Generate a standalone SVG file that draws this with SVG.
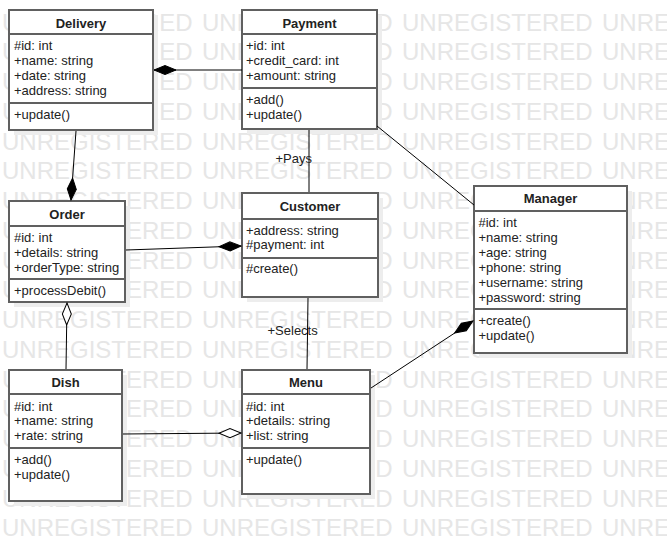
<svg xmlns="http://www.w3.org/2000/svg" xmlns:xlink="http://www.w3.org/1999/xlink" width="667" height="541" viewBox="0 0 667 541">
<style>
.wm{font-family:"Liberation Sans",Arial,sans-serif;font-size:24px;fill:#e6e6e6}
.shadow{fill:#ededed}
.box{fill:#fff;stroke:#606060;stroke-width:2}
.div{stroke:#606060;stroke-width:2}
.title{font-family:"Liberation Sans",Arial,sans-serif;font-size:13px;font-weight:bold;fill:#222;text-anchor:middle}
.txt{font-family:"Liberation Sans",Arial,sans-serif;font-size:13px;fill:#222}
.conn{stroke:#000;stroke-width:1;fill:none}
.lbl{font-family:"Liberation Sans",Arial,sans-serif;font-size:13px;fill:#222}
</style>
<defs>
<marker id="comp" markerUnits="userSpaceOnUse" markerWidth="24" markerHeight="12" viewBox="-1 -6 24 12" refX="22" refY="0" orient="auto" overflow="visible">
<path d="M0,0 L11,-4.5 L22,0 L11,4.5 Z" fill="#000" stroke="#000" stroke-width="1"/>
</marker>
<marker id="agg" markerUnits="userSpaceOnUse" markerWidth="24" markerHeight="12" viewBox="-1 -6 24 12" refX="22" refY="0" orient="auto" overflow="visible">
<path d="M0,0 L11,-4.5 L22,0 L11,4.5 Z" fill="#fff" stroke="#000" stroke-width="1"/>
</marker>
<text id="wmrow" class="wm"><tspan x="2">UNREGISTERED</tspan><tspan x="202">UNREGISTERED</tspan><tspan x="402">UNREGISTERED</tspan><tspan x="602">UNREGISTERED</tspan></text>
</defs>
<rect width="667" height="541" fill="#fff"/>
<g id="watermark">
<use xlink:href="#wmrow" y="30.5"/>
<use xlink:href="#wmrow" y="60.25"/>
<use xlink:href="#wmrow" y="90"/>
<use xlink:href="#wmrow" y="119.75"/>
<use xlink:href="#wmrow" y="149.5"/>
<use xlink:href="#wmrow" y="179.25"/>
<use xlink:href="#wmrow" y="209"/>
<use xlink:href="#wmrow" y="238.75"/>
<use xlink:href="#wmrow" y="268.5"/>
<use xlink:href="#wmrow" y="298.25"/>
<use xlink:href="#wmrow" y="328"/>
<use xlink:href="#wmrow" y="357.75"/>
<use xlink:href="#wmrow" y="387.5"/>
<use xlink:href="#wmrow" y="417.25"/>
<use xlink:href="#wmrow" y="447"/>
<use xlink:href="#wmrow" y="476.75"/>
<use xlink:href="#wmrow" y="506.5"/>
<use xlink:href="#wmrow" y="536.25"/>
</g>
<g id="delivery">
<rect class="shadow" x="14" y="15" width="144" height="120"/>
<rect class="box" x="9" y="10" width="144" height="120"/>
<line class="div" x1="9" y1="34" x2="153" y2="34"/>
<line class="div" x1="9" y1="103" x2="153" y2="103"/>
<text class="title" x="81" y="27.5">Delivery</text>
<text class="txt" x="14" y="50">#id: int</text>
<text class="txt" x="14" y="65">+name: string</text>
<text class="txt" x="14" y="80">+date: string</text>
<text class="txt" x="14" y="95">+address: string</text>
<text class="txt" x="14" y="118.5">+update()</text>
</g>
<g id="payment">
<rect class="shadow" x="247" y="15" width="135" height="119"/>
<rect class="box" x="242" y="10" width="135" height="119"/>
<line class="div" x1="242" y1="34" x2="377" y2="34"/>
<line class="div" x1="242" y1="88" x2="377" y2="88"/>
<text class="title" x="309.5" y="27.5">Payment</text>
<text class="txt" x="246" y="50">+id: int</text>
<text class="txt" x="246" y="65">+credit_card: int</text>
<text class="txt" x="246" y="80">+amount: string</text>
<text class="txt" x="246" y="103.5">+add()</text>
<text class="txt" x="246" y="118.5">+update()</text>
</g>
<g id="order">
<rect class="shadow" x="14" y="206" width="116" height="101"/>
<rect class="box" x="9" y="201" width="116" height="101"/>
<line class="div" x1="9" y1="226" x2="125" y2="226"/>
<line class="div" x1="9" y1="279" x2="125" y2="279"/>
<text class="title" x="67" y="219">Order</text>
<text class="txt" x="14" y="242">#id: int</text>
<text class="txt" x="14" y="257">+details: string</text>
<text class="txt" x="14" y="272">+orderType: string</text>
<text class="txt" x="14" y="294.5">+processDebit()</text>
</g>
<g id="customer">
<rect class="shadow" x="247" y="198" width="136" height="104"/>
<rect class="box" x="242" y="193" width="136" height="104"/>
<line class="div" x1="242" y1="219" x2="378" y2="219"/>
<line class="div" x1="242" y1="258" x2="378" y2="258"/>
<text class="title" x="310" y="211">Customer</text>
<text class="txt" x="246" y="234.5">+address: string</text>
<text class="txt" x="246" y="249">#payment: int</text>
<text class="txt" x="246" y="272.5">#create()</text>
</g>
<g id="manager">
<rect class="shadow" x="479" y="191" width="153" height="167"/>
<rect class="box" x="474" y="186" width="153" height="167"/>
<line class="div" x1="474" y1="211" x2="627" y2="211"/>
<line class="div" x1="474" y1="309" x2="627" y2="309"/>
<text class="title" x="550.5" y="203">Manager</text>
<text class="txt" x="478.5" y="226.5">#id: int</text>
<text class="txt" x="478.5" y="241.5">+name: string</text>
<text class="txt" x="478.5" y="256.5">+age: string</text>
<text class="txt" x="478.5" y="271.5">+phone: string</text>
<text class="txt" x="478.5" y="286.5">+username: string</text>
<text class="txt" x="478.5" y="301.5">+password: string</text>
<text class="txt" x="478.5" y="324.5">+create()</text>
<text class="txt" x="478.5" y="339.5">+update()</text>
</g>
<g id="dish">
<rect class="shadow" x="14" y="375" width="113" height="131"/>
<rect class="box" x="9" y="370" width="113" height="131"/>
<line class="div" x1="9" y1="394" x2="122" y2="394"/>
<line class="div" x1="9" y1="448" x2="122" y2="448"/>
<text class="title" x="65.5" y="387">Dish</text>
<text class="txt" x="14" y="410.5">#id: int</text>
<text class="txt" x="14" y="425">+name: string</text>
<text class="txt" x="14" y="440">+rate: string</text>
<text class="txt" x="14" y="464">+add()</text>
<text class="txt" x="14" y="478.5">+update()</text>
</g>
<g id="menu">
<rect class="shadow" x="247" y="375" width="128" height="124"/>
<rect class="box" x="242" y="370" width="128" height="124"/>
<line class="div" x1="242" y1="394" x2="370" y2="394"/>
<line class="div" x1="242" y1="448" x2="370" y2="448"/>
<text class="title" x="306" y="387">Menu</text>
<text class="txt" x="246" y="410.5">#id: int</text>
<text class="txt" x="246" y="425">+details: string</text>
<text class="txt" x="246" y="440">+list: string</text>
<text class="txt" x="246" y="464">+update()</text>
</g>
<g id="connectors">
<line class="conn" x1="242" y1="70" x2="154" y2="70" marker-end="url(#comp)"/>
<line class="conn" x1="76" y1="131" x2="71" y2="200" marker-end="url(#comp)"/>
<line class="conn" x1="126" y1="250" x2="241" y2="246" marker-end="url(#comp)"/>
<line class="conn" x1="309" y1="130" x2="309" y2="192"/>
<text class="lbl" x="275.5" y="163">+Pays</text>
<line class="conn" x1="377" y1="126" x2="474" y2="205"/>
<line class="conn" x1="308" y1="298" x2="307" y2="369"/>
<text class="lbl" x="267.5" y="335">+Selects</text>
<line class="conn" x1="371" y1="388" x2="473" y2="321" marker-end="url(#comp)"/>
<line class="conn" x1="66" y1="369" x2="67" y2="303" marker-end="url(#agg)"/>
<line class="conn" x1="123" y1="434" x2="241" y2="433" marker-end="url(#agg)"/>
</g>
</svg>
